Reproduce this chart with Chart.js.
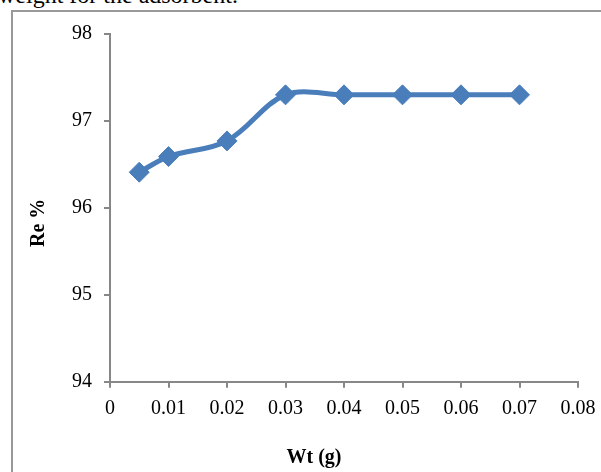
<!DOCTYPE html>
<html>
<head>
<meta charset="utf-8">
<script src="https://cdn.jsdelivr.net/npm/chart.js@4/dist/chart.umd.min.js"></script>
<style>
  html, body { margin: 0; padding: 0; background: #fff; overflow: hidden; }
  #caption {
    position: absolute; left: -2px; top: -17px;
    font-family: "Liberation Serif", "Times New Roman", serif;
    font-size: 24px; line-height: 24px; color: #000; white-space: nowrap;
  }
  #frame {
    position: absolute; left: 11px; top: 10px; width: 700px; height: 600px;
    border-left: 2px solid #999; border-top: 2px solid #999;
  }
  #myChart { position: absolute; left: 0; top: 0; }
</style>
</head>
<body>
<div id="caption">weight for the adsorbent.</div>
<div id="frame"></div>
<canvas id="myChart" width="601" height="472"></canvas>
<script>
const weights = [0.005, 0.01, 0.02, 0.03, 0.04, 0.05, 0.06, 0.07];
const removal = [96.41, 96.59, 96.77, 97.30, 97.30, 97.30, 97.30, 97.30];
const xTickLabels = ["0", "0.01", "0.02", "0.03", "0.04", "0.05", "0.06", "0.07", "0.08"];
const yTickLabels = ["94", "95", "96", "97", "98"];

const serif = "'Liberation Serif', 'Times New Roman', serif";
const axisGray = "#878787";

const ctx = document.getElementById("myChart").getContext("2d");
new Chart(ctx, {
  type: "scatter",
  data: {
    datasets: [
      {
        label: "Re %",
        data: weights.map((w, i) => ({ x: w, y: removal[i] })),
        showLine: true,
        borderColor: "#4a7ebb",
        backgroundColor: "#4a7ebb",
        borderWidth: 5,
        tension: 0.35,
        pointStyle: "rectRot",
        pointRadius: 10,
        pointHoverRadius: 10,
        pointBorderWidth: 1,
      },
    ],
  },
  options: {
    responsive: false,
    animation: false,
    events: [],
    layout: { padding: { left: 12, top: 34, right: 23, bottom: 0 } },
    plugins: { legend: { display: false }, tooltip: { enabled: false } },
    scales: {
      x: {
        type: "linear",
        min: 0,
        max: 0.08,
        afterFit: (s) => { s.height = 90.3; s.paddingLeft = 0; s.paddingRight = 0; },
        afterBuildTicks: (s) => { s.ticks = xTickLabels.map((t) => ({ value: parseFloat(t) })); },
        ticks: {
          padding: 9,
          color: "#000",
          font: { family: serif, size: 20 },
          maxRotation: 0,
          callback: (v, i) => xTickLabels[i],
        },
        grid: { drawOnChartArea: false, drawTicks: true, tickLength: 6, color: axisGray, lineWidth: 2 },
        border: { display: true, color: axisGray, width: 2 },
        title: {
          display: true,
          text: "Wt (g)            ",
          color: "#000",
          font: { family: serif, size: 20, weight: "bold" },
          padding: { top: 0, bottom: 2 },
        },
      },
      y: {
        min: 94,
        max: 98,
        afterFit: (s) => { s.width = 98; s.paddingTop = 0; s.paddingBottom = 0; },
        afterBuildTicks: (s) => { s.ticks = yTickLabels.map((t) => ({ value: parseFloat(t) })); },
        ticks: {
          padding: 12,
          color: "#000",
          font: { family: serif, size: 20 },
          callback: (v, i) => yTickLabels[i],
        },
        grid: { drawOnChartArea: false, drawTicks: true, tickLength: 6, color: axisGray, lineWidth: 2 },
        border: { display: true, color: axisGray, width: 2 },
        title: {
          display: true,
          text: "Re %      ",
          color: "#000",
          font: { family: serif, size: 20, weight: "bold" },
          padding: { top: 15, bottom: 0 },
        },
      },
    },
  },
});
</script>
</body>
</html>
